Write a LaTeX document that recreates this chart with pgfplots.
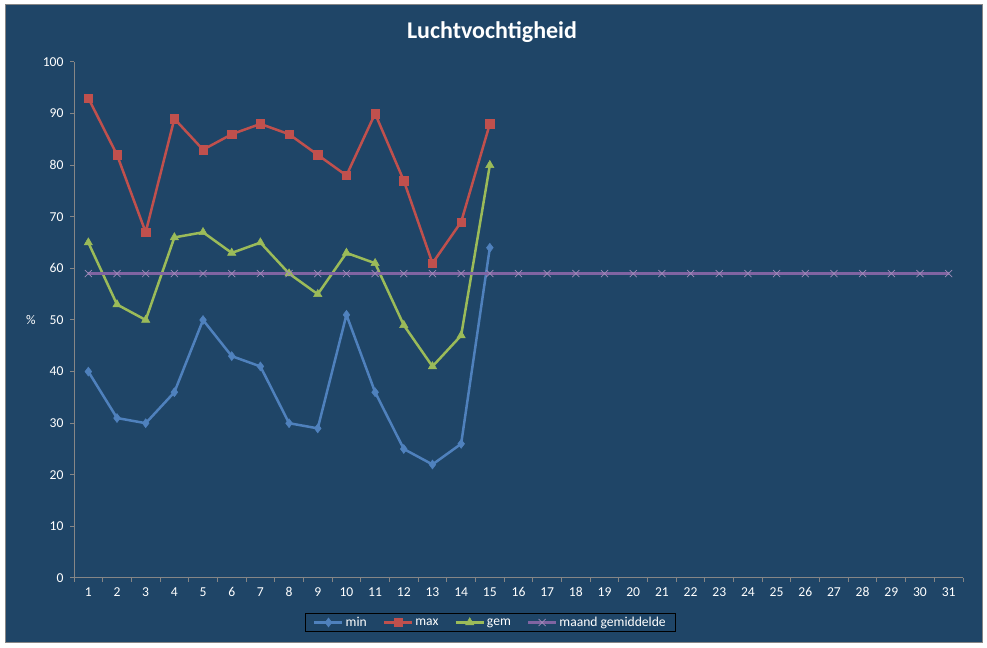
\documentclass[border=0pt]{standalone}
\usepackage{pgfplots}
\pgfplotsset{compat=1.18}
\usepackage{fontspec}
\setmainfont{Carlito}
\definecolor{bgblue}{RGB}{31,69,103}
\definecolor{minblue}{RGB}{79,129,189}
\definecolor{maxred}{RGB}{192,80,77}
\definecolor{gemgreen}{RGB}{155,187,89}
\definecolor{maandpurple}{RGB}{128,100,162}
\definecolor{axgray}{RGB}{134,134,134}
\begin{document}
\begin{tikzpicture}
\fill[white] (0bp,0bp) rectangle (987bp,648bp);
\useasboundingbox (0bp,0bp) rectangle (987bp,648bp);
\filldraw[fill=bgblue, draw=axgray, line width=1bp] (5bp,5bp) rectangle (982bp,643bp);
\node[text=white, font=\fontsize{24bp}{28bp}\selectfont\bfseries] at (492bp,616bp) {Luchtvochtigheid};
\node[text=white, font=\fontsize{13.3bp}{15bp}\selectfont] at (31bp,328bp) {\%};
\begin{axis}[
  at={(74bp,70bp)}, anchor=south west,
  scale only axis, width=889bp, height=516bp,
  xmin=0.5, xmax=31.5, ymin=0, ymax=100,
  axis x line=bottom, axis y line=left,
  axis line style={draw=axgray, line width=1bp, -},
  xtick={1,...,31},
  minor xtick={0.5,1.5,...,31.5},
  major x tick style={draw=none},
  minor x tick style={draw=axgray, line width=1bp},
  ytick={0,10,...,100},
  y tick style={draw=axgray, line width=1bp},
  tick align=outside,
  major tick length=4bp, minor tick length=4bp,
  ticklabel style={text=white, font=\fontsize{13.6bp}{15bp}\selectfont},
  /pgf/number format/assume math mode=true,
  yticklabel style={xshift=-3bp},
  xticklabel style={yshift=-2bp},
  clip=false,
  legend columns=-1,
  legend style={at={(axis description cs:0.4685,-0.0862)}, anchor=center,
    fill=none, draw=black, line width=1bp, text=white,
    font=\fontsize{13.6bp}{15bp}\selectfont,
    inner xsep=8bp, inner ysep=2bp},
  /tikz/every even column/.append style={column sep=14bp},
  legend image code/.code={
    \draw[#1, mark repeat=2, mark phase=2] plot coordinates {(0bp,0bp) (14bp,0bp) (28bp,0bp)};},
]
\addplot[color=minblue, line width=2.5bp, mark=diamond*, mark size=4.5bp, mark options={solid, line width=0.5bp}]
coordinates {(1,40)(2,31)(3,30)(4,36)(5,50)(6,43)(7,41)(8,30)(9,29)(10,51)(11,36)(12,25)(13,22)(14,26)(15,64)};
\addlegendentry{min}
\addplot[color=maxred, line width=2.5bp, mark=square*, mark size=4.2bp, mark options={solid, line width=0.5bp}]
coordinates {(1,93)(2,82)(3,67)(4,89)(5,83)(6,86)(7,88)(8,86)(9,82)(10,78)(11,90)(12,77)(13,61)(14,69)(15,88)};
\addlegendentry{max}
\addplot[color=gemgreen, line width=2.5bp, mark=triangle*, mark size=4.8bp, mark options={solid, line width=0.5bp}]
coordinates {(1,65)(2,53)(3,50)(4,66)(5,67)(6,63)(7,65)(8,59)(9,55)(10,63)(11,61)(12,49)(13,41)(14,47)(15,80)};
\addlegendentry{gem}
\addplot[color=maandpurple, line width=2.5bp, mark=x, mark size=5bp, mark options={solid, line width=0.7bp, draw=maandpurple!75!white}]
coordinates {(1,59)(2,59)(3,59)(4,59)(5,59)(6,59)(7,59)(8,59)(9,59)(10,59)(11,59)(12,59)(13,59)(14,59)(15,59)(16,59)(17,59)(18,59)(19,59)(20,59)(21,59)(22,59)(23,59)(24,59)(25,59)(26,59)(27,59)(28,59)(29,59)(30,59)(31,59)};
\addlegendentry{maand gemiddelde}
\end{axis}
\end{tikzpicture}
\end{document}
